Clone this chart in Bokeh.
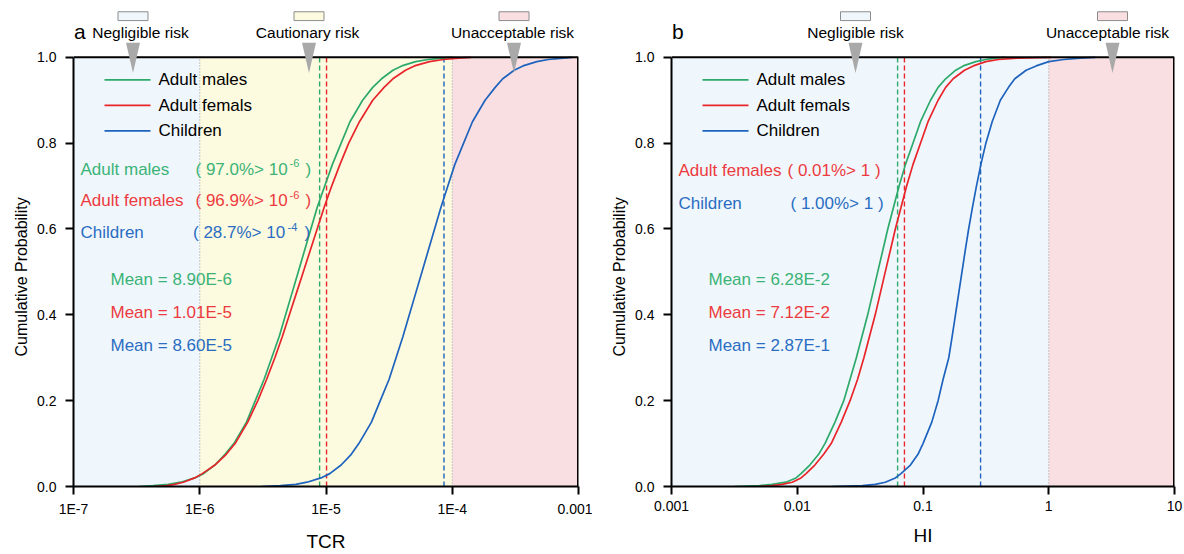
from bokeh.plotting import figure
from bokeh.layouts import row
from bokeh.models import (Range1d, FixedTicker, Label, Title, CustomJSTickFormatter)
from bokeh.embed import file_html
from bokeh.resources import INLINE

# ---------------- data (x values given as log10) ----------------
prob = [0, 0.002, 0.005, 0.01, 0.02, 0.03, 0.05, 0.075, 0.1, 0.15, 0.2, 0.25, 0.3,
        0.35, 0.4, 0.45, 0.5, 0.55, 0.6, 0.65, 0.7, 0.75, 0.8, 0.85, 0.9, 0.93,
        0.95, 0.97, 0.98, 0.99, 0.995, 0.998, 1.0]

tcr_males_log10 = [-6.48, -6.37, -6.25, -6.15, -6.04, -5.97, -5.88, -5.80, -5.73, -5.63,
                   -5.56, -5.49, -5.43, -5.37, -5.32, -5.27, -5.22, -5.17, -5.12, -5.07,
                   -5.01, -4.95, -4.88, -4.81, -4.71, -4.63, -4.56, -4.47, -4.40, -4.29,
                   -4.19, -4.08, -4.00]
tcr_females_log10 = [-6.36, -6.26, -6.20, -6.13, -6.04, -5.98, -5.88, -5.79, -5.72, -5.62,
                     -5.54, -5.47, -5.405, -5.345, -5.29, -5.235, -5.18, -5.125, -5.07,
                     -5.015, -4.955, -4.89, -4.82, -4.735, -4.63, -4.54, -4.47, -4.37,
                     -4.30, -4.18, -4.07, -3.95, -3.85]
tcr_children_log10 = [-5.51, -5.36, -5.24, -5.15, -5.04, -4.97, -4.88, -4.80, -4.74, -4.64,
                      -4.57, -4.50, -4.445, -4.39, -4.34, -4.29, -4.24, -4.19, -4.14, -4.09,
                      -4.035, -3.98, -3.91, -3.84, -3.74, -3.66, -3.60, -3.51, -3.44, -3.33,
                      -3.24, -3.12, -3.05]

hi_males_log10 = [-2.50, -2.30, -2.20, -2.09, -2.01, -1.97, -1.90, -1.83, -1.78, -1.70,
                  -1.63, -1.58, -1.53, -1.485, -1.44, -1.40, -1.36, -1.32, -1.28, -1.235,
                  -1.19, -1.14, -1.08, -1.02, -0.94, -0.88, -0.82, -0.74, -0.68, -0.58,
                  -0.50, -0.42, -0.35]
hi_females_log10 = [-2.30, -2.20, -2.12, -2.04, -1.97, -1.93, -1.86, -1.79, -1.73, -1.65,
                    -1.58, -1.52, -1.47, -1.425, -1.38, -1.34, -1.30, -1.26, -1.22, -1.175,
                    -1.13, -1.08, -1.02, -0.96, -0.88, -0.82, -0.76, -0.67, -0.60, -0.50,
                    -0.40, -0.25, 0.02]
hi_children_log10 = [-1.72, -1.48, -1.38, -1.30, -1.22, -1.175, -1.10, -1.04, -1.00, -0.93,
                     -0.88, -0.84, -0.795, -0.768, -0.742, -0.716, -0.69, -0.664, -0.637,
                     -0.607, -0.575, -0.54, -0.50, -0.45, -0.385, -0.32, -0.27, -0.18,
                     -0.10, 0.0, 0.12, 0.25, 0.37]

tcr_means = [8.90e-6, 1.01e-5, 8.60e-5]
hi_means = [6.28e-2, 7.12e-2, 2.87e-1]
tcr_mean_text = ["Mean = 8.90E-6", "Mean = 1.01E-5", "Mean = 8.60E-5"]
hi_mean_text = ["Mean = 6.28E-2", "Mean = 7.12E-2", "Mean = 2.87E-1"]

legend_names = ["Adult males", "Adult femals", "Children"]

tcr_ticks = [1e-7, 1e-6, 1e-5, 1e-4, 1e-3]
tcr_tick_labels = ["1E-7", "1E-6", "1E-5", "1E-4", "0.001"]
hi_ticks = [1e-3, 1e-2, 1e-1, 1, 10]
hi_tick_labels = ["0.001", "0.01", "0.1", "1", "10"]
y_ticks = [0, 0.2, 0.4, 0.6, 0.8, 1.0]

tcr_zone_edges = [1e-7, 1e-6, 1e-4, 1e-3]
tcr_zone_names = ["Negligible risk", "Cautionary risk", "Unacceptable risk"]
hi_zone_edges = [1e-3, 1, 10]
hi_zone_names = ["Negligible risk", "Unacceptable risk"]

# ---------------- style ----------------
FONT = "Liberation Sans"
LINE_COLORS = ["#2DAA6B", "#E8252B", "#1E63BE"]
TEXT_COLORS = ["#3BB377", "#EC3B40", "#2A6DC2"]
ZONE_BLUE = "#F0F7FC"
ZONE_YELLOW = "#FCFADF"
ZONE_PINK = "#F9DFE1"
FRAME_TOP = 58.0          # where probability 1.0 sits (canvas px)
FRAME_BOTTOM = 496.0      # where probability 0.0 sits (canvas px)
FRAME_H = FRAME_BOTTOM - FRAME_TOP
PANEL_W = 592


def Y(py):
    return (FRAME_BOTTOM - py) / FRAME_H


def make_fig(lo, hi, ticks, tick_labels, xlabel, border_left, border_right):
    p = figure(width=PANEL_W, height=554, x_axis_type="log",
               x_range=Range1d(10 ** lo, 10 ** hi),
               y_range=Range1d(0, FRAME_BOTTOM / FRAME_H),
               output_backend="svg", toolbar_location=None,
               min_border_left=border_left, min_border_right=border_right,
               min_border_top=0, min_border_bottom=58)
    p.grid.visible = False
    p.outline_line_color = None
    p.background_fill_color = "white"
    p.border_fill_color = "white"
    for ax in (p.xaxis[0], p.yaxis[0]):
        ax.axis_line_width = 2
        ax.axis_line_color = "black"
        ax.major_tick_line_width = 2
        ax.major_tick_line_color = "black"
        ax.major_tick_out = 8
        ax.major_tick_in = 0
        ax.minor_tick_line_color = None
        ax.major_label_text_font = FONT
        ax.major_label_text_font_size = "14px"
        ax.major_label_text_color = "black"
        ax.axis_label_text_font = FONT
        ax.axis_label_text_font_style = "normal"
        ax.axis_label_text_font_size = "19px"
        ax.axis_label_text_color = "black"
    p.xaxis[0].ticker = FixedTicker(ticks=ticks, minor_ticks=[])
    p.xaxis[0].formatter = CustomJSTickFormatter(
        args=dict(labels=tick_labels, lo=lo),
        code="return labels[Math.round(Math.log10(tick)) - lo];")
    p.xaxis[0].major_label_standoff = 6
    p.xaxis[0].axis_label = xlabel
    p.xaxis[0].axis_label_standoff = 11
    p.yaxis[0].ticker = FixedTicker(ticks=y_ticks, minor_ticks=[])
    p.yaxis[0].bounds = (0, 1)
    p.yaxis[0].formatter = CustomJSTickFormatter(code="return tick.toFixed(1);")
    p.yaxis[0].major_label_standoff = 9
    p.add_layout(Title(text="Cumulative Probability", align="left", offset=130,
                       text_font=FONT, text_font_size="16px",
                       text_font_style="normal", text_color="black",
                       standoff=10), "left")
    return p


def build(lo, hi, frame_w, ticks, tick_labels, xlabel, border_left, border_right,
          zone_edges, zone_colors, curves_log10, means, mean_texts, letter,
          header_names, header_fx, header_text_fx, stats):
    dec = frame_w / (hi - lo)
    xmin, xmax = 10 ** lo, 10 ** hi

    def X(fx):
        return 10 ** (lo + fx / dec)

    def lab(txt, fx, py, color, size, align="left"):
        p.add_layout(Label(x=X(fx), y=Y(py), text=txt, text_color=color,
                           text_font=FONT, text_font_size=f"{size}px",
                           text_align=align, text_baseline="middle"))

    p = make_fig(lo, hi, ticks, tick_labels, xlabel, border_left, border_right)

    # risk zones
    for i, c in enumerate(zone_colors):
        p.quad(left=zone_edges[i], right=zone_edges[i + 1], bottom=0, top=1,
               fill_color=c, line_color=None, level="underlay")
    inner = zone_edges[1:-1]
    p.segment(x0=inner, y0=[0] * len(inner), x1=inner, y1=[1] * len(inner),
              line_color="#9A9A9A", line_width=1, line_dash="1 2")

    # mean lines
    p.segment(x0=means, y0=[0, 0, 0], x1=means, y1=[1, 1, 1],
              line_color=LINE_COLORS, line_width=1.4, line_dash="5 3")

    # curves
    for logs, c in zip(curves_log10, LINE_COLORS):
        p.line([10 ** v for v in logs], prob, line_color=c, line_width=1.7)

    # top and right border of the plotting box
    p.segment(x0=[xmin, xmax], y0=[1, 0], x1=[xmax, xmax], y1=[1, 1],
              line_color="black", line_width=[2, 3])

    # legend
    for i, (name, c) in enumerate(zip(legend_names, LINE_COLORS)):
        py = 81 + 26 * i
        p.segment(x0=[X(31)], y0=[Y(py)], x1=[X(77)], y1=[Y(py)],
                  line_color=c, line_width=1.7)
        lab(name, 85, py, "black", 17)

    # statistics text
    for s in stats:
        lab(s["text"], s["fx"], s["py"], s["color"], 17)
    for i, (t, c) in enumerate(zip(mean_texts, TEXT_COLORS)):
        lab(t, 37, 285 + 33.5 * i, c, 17)

    # header: panel letter, coloured boxes, names, grey pointers
    lab(letter, 0.5, 32, "black", 21)
    for name, fx, tfx, c in zip(header_names, header_fx, header_text_fx, zone_colors):
        hw, tw = 15, 7
        p.quad(left=[X(fx - hw)], right=[X(fx + hw)], top=[Y(11.5)],
               bottom=[Y(20.5)], fill_color=c, line_color="#8C8C8C", line_width=1)
        lab(name, tfx, 33, "black", 15.5, align="center")
        p.patch([X(fx - tw), X(fx + tw), X(fx)], [Y(43), Y(43), Y(74)],
                fill_color="#A9A9A9", line_color=None)
    return p, lab


# ---------------- panel a ----------------
stats_a = [
    dict(text="Adult males", fx=7, py=172, color=TEXT_COLORS[0]),
    dict(text="( 97.0%> 10", fx=122, py=172, color=TEXT_COLORS[0]),
    dict(text="Adult females", fx=7, py=204.5, color=TEXT_COLORS[1]),
    dict(text="( 96.9%> 10", fx=122, py=204.5, color=TEXT_COLORS[1]),
    dict(text="Children", fx=7, py=237, color=TEXT_COLORS[2]),
    dict(text="( 28.7%> 10", fx=119.5, py=237, color=TEXT_COLORS[2]),
]
pa, laba = build(
    -7, -3, 505, tcr_ticks, tcr_tick_labels, "TCR", 73, 14,
    tcr_zone_edges, [ZONE_BLUE, ZONE_YELLOW, ZONE_PINK],
    [tcr_males_log10, tcr_females_log10, tcr_children_log10], tcr_means,
    tcr_mean_text, "a", tcr_zone_names, [59.5, 235.5, 440.5], [67, 234, 439],
    stats_a)
for (sup, py, fx_sup, fx_close, c) in [("-6", 172, 216, 232, TEXT_COLORS[0]),
                                       ("-6", 204.5, 216, 232, TEXT_COLORS[1]),
                                       ("-4", 237, 214, 231, TEXT_COLORS[2])]:
    laba(sup, fx_sup, py - 6, c, 11)
    laba(")", fx_close, py, c, 17)

# ---------------- panel b ----------------
stats_b = [
    dict(text="Adult females", fx=7, py=174, color=TEXT_COLORS[1]),
    dict(text="( 0.01%> 1 )", fx=116, py=174, color=TEXT_COLORS[1]),
    dict(text="Children", fx=7, py=207.5, color=TEXT_COLORS[2]),
    dict(text="( 1.00%> 1 )", fx=119, py=207.5, color=TEXT_COLORS[2]),
]
pb, labb = build(
    -3, 1, 503, hi_ticks, hi_tick_labels, "HI", 79, 10,
    hi_zone_edges, [ZONE_BLUE, ZONE_PINK],
    [hi_males_log10, hi_females_log10, hi_children_log10], hi_means,
    hi_mean_text, "b", hi_zone_names, [184, 441], [184, 436], stats_b)

layout = row(pa, pb, spacing=0)
open("out.html", "w").write(file_html(layout, INLINE))
